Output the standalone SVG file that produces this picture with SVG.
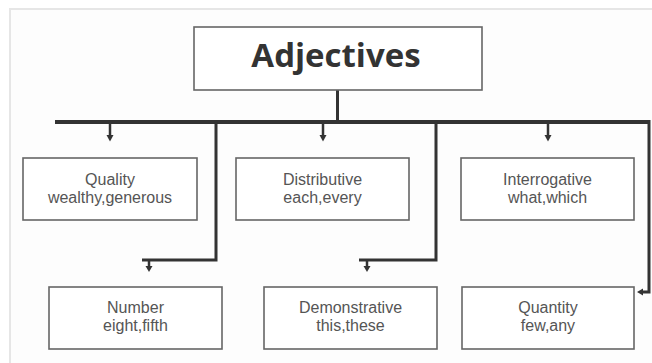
<svg xmlns="http://www.w3.org/2000/svg" width="652" height="363" viewBox="0 0 652 363">
<style>
.box{fill:#ffffff;stroke:#666666;stroke-width:1.6}
.lbl{font-family:"Liberation Sans",Arial,sans-serif;font-size:16px;fill:#555555;text-anchor:middle}
.title{font-family:"Open Sans","Noto Sans",sans-serif;font-weight:bold;font-size:33px;fill:#333333;text-anchor:middle}
.bar{fill:none;stroke:#333333;stroke-width:4;stroke-linejoin:miter}
.line{fill:none;stroke:#333333;stroke-width:3}
.stem{fill:none;stroke:#333333;stroke-width:2.5}
.head{fill:#333333}
</style>
<rect x="0" y="0" width="652" height="363" fill="#ffffff"/>
<rect x="10" y="9" width="642" height="354" fill="#fdfdfd"/>
<path d="M10 363 V9 H652" fill="none" stroke="#e6e6e6" stroke-width="2"/>
<g id="connectors">
<path class="line" d="M337.5 90 V122"/>
<path class="bar" d="M55 122 H649"/>
<path class="line" d="M649 120 V292 H641"/>
<path class="head" d="M637 292 L643 288.5 L643 295.5 Z"/>
<path class="line" d="M216 122 V260 H142"/>
<path class="line" d="M436 122 V260 H359"/>
<path class="stem" d="M110 124 V136"/>
<path class="head" d="M106.5 135 L113.5 135 L110 141.5 Z"/>
<path class="stem" d="M323 124 V136"/>
<path class="head" d="M319.5 135 L326.5 135 L323 141.5 Z"/>
<path class="stem" d="M548 124 V136"/>
<path class="head" d="M544.5 135 L551.5 135 L548 141.5 Z"/>
<path class="stem" d="M149 261 V267"/>
<path class="head" d="M145.5 266 L152.5 266 L149 272 Z"/>
<path class="stem" d="M367 261 V267"/>
<path class="head" d="M363.5 266 L370.5 266 L367 272 Z"/>
</g>
<g id="adjectives">
<rect class="box" x="194" y="27" width="288" height="63"/>
<text class="title" x="336" y="67">Adjectives</text>
</g>
<g id="quality">
<rect class="box" x="23" y="158" width="174" height="62"/>
<text class="lbl" x="110" y="185">Quality</text>
<text class="lbl" x="110" y="203">wealthy,generous</text>
</g>
<g id="distributive">
<rect class="box" x="236" y="158" width="173" height="62"/>
<text class="lbl" x="322.5" y="185">Distributive</text>
<text class="lbl" x="322.5" y="203">each,every</text>
</g>
<g id="interrogative">
<rect class="box" x="461" y="158" width="173" height="62"/>
<text class="lbl" x="547.5" y="185">Interrogative</text>
<text class="lbl" x="547.5" y="203">what,which</text>
</g>
<g id="number">
<rect class="box" x="49" y="287" width="173" height="62"/>
<text class="lbl" x="135.5" y="313">Number</text>
<text class="lbl" x="135.5" y="331">eight,fifth</text>
</g>
<g id="demonstrative">
<rect class="box" x="264" y="287" width="173" height="62"/>
<text class="lbl" x="350.5" y="313">Demonstrative</text>
<text class="lbl" x="350.5" y="331">this,these</text>
</g>
<g id="quantity">
<rect class="box" x="462" y="287" width="172" height="62"/>
<text class="lbl" x="548" y="313">Quantity</text>
<text class="lbl" x="548" y="331">few,any</text>
</g>
</svg>
